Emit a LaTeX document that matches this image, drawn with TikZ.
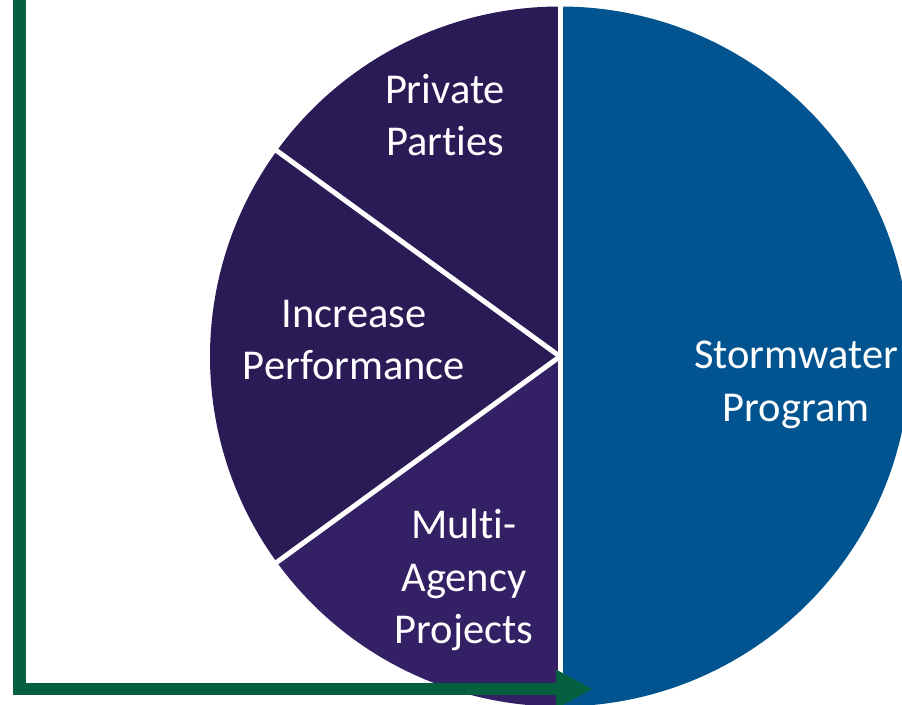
\documentclass[tikz,border=0pt]{standalone}
\usepackage{fontspec}
\setmainfont{Carlito}[Ligatures={NoCommon}]
\usetikzlibrary{arrows.meta}
\definecolor{pieblue}{HTML}{01548F}
\definecolor{piedark}{HTML}{2A1A55}
\definecolor{piemulti}{HTML}{332065}
\definecolor{arrowgreen}{HTML}{05603F}
\tikzset{
  slicelabel/.style={text=white, align=center, font=\fontsize{42.5}{52.5}\selectfont, inner sep=0pt},
  sep/.style={draw=white, line width=5pt},
  axisarrow/.style={draw=arrowgreen, line width=12.5pt, line join=miter,
    -{Triangle[length=37pt,width=36pt]}}
}
\begin{document}
\begin{tikzpicture}[x=1pt,y=1pt]
\useasboundingbox (0,0) rectangle (902,704);
\clip (0,0) rectangle (902,704);
\coordinate (c) at (560,347.5);
% slices
\fill[pieblue] (c) -- ++(-90:350) arc[start angle=-90, end angle=90, radius=350] -- cycle;
\fill[piedark] (c) -- ++(90:350) arc[start angle=90, end angle=144, radius=350] -- cycle;
\fill[piedark] (c) -- ++(144:350) arc[start angle=144, end angle=216, radius=350] -- cycle;
\fill[piemulti] (c) -- ++(216:350) arc[start angle=216, end angle=270, radius=350] -- cycle;
% separators
\draw[sep] (c) -- ++(90:352);
\draw[sep] (c) -- ++(270:352);
\draw[sep] (c) -- ++(144:351);
\draw[sep] (c) -- ++(216:351);
% labels
\node[slicelabel] (pp) at (445,589) {Private\\Parties};
\node[slicelabel] (ip) at (354,364) {Increase\\Performance};
\node[slicelabel] (ma) at (464,124) {Multi-\\Agency\\Projects};
\node[slicelabel] (sp) at (796,319) {Stormwater\\Program};
% green axis arrow
\coordinate (a0) at (19.5,710);
\coordinate (a1) at (19.5,15);
\coordinate (a2) at (593,15);
\draw[axisarrow] (a0) -- (a1) -- (a2);
\end{tikzpicture}
\end{document}
